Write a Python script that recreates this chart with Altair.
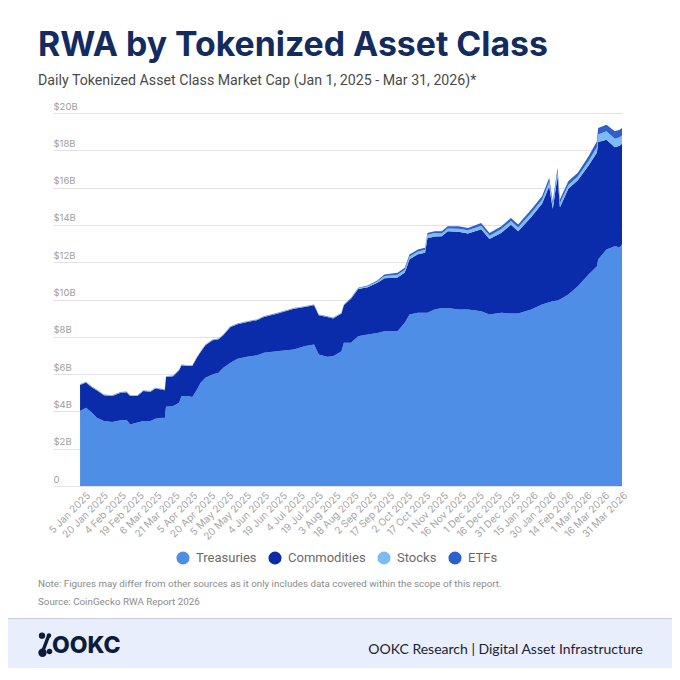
import altair as alt
import pandas as pd

# ---------------- data ($B) ----------------
dates = ["2025-01-01","2025-01-06","2025-01-11","2025-01-15","2025-01-21","2025-01-28","2025-02-04","2025-02-09","2025-02-12","2025-02-18",
         "2025-02-23","2025-03-01","2025-03-05","2025-03-11","2025-03-13","2025-03-14","2025-03-20","2025-03-25","2025-03-27","2025-04-01",
         "2025-04-05","2025-04-09","2025-04-12","2025-04-16","2025-04-22","2025-04-27","2025-05-01","2025-05-07","2025-05-13","2025-05-21",
         "2025-05-29","2025-06-04","2025-06-15","2025-06-29","2025-07-08","2025-07-16","2025-07-20","2025-07-27","2025-08-01","2025-08-08",
         "2025-08-10","2025-08-16","2025-08-22","2025-08-30","2025-09-07","2025-09-13","2025-09-24","2025-09-30","2025-10-04","2025-10-11",
         "2025-10-17","2025-10-19","2025-10-25","2025-10-31","2025-11-05","2025-11-14","2025-11-22","2025-12-03","2025-12-10","2025-12-20",
         "2025-12-28","2026-01-03","2026-01-14","2026-01-23","2026-01-29","2026-02-01","2026-02-05","2026-02-07","2026-02-14","2026-02-22",
         "2026-03-03","2026-03-10","2026-03-11","2026-03-18","2026-03-25","2026-03-29","2026-03-31"]

treasuries = [4.02,4.20,3.93,3.66,3.48,3.43,3.52,3.54,3.30,3.40,
              3.48,3.48,3.61,3.66,3.64,4.25,4.29,4.47,4.82,4.82,
              4.77,5.18,5.54,5.81,5.98,6.07,6.34,6.61,6.82,6.93,
              7.00,7.14,7.23,7.32,7.50,7.59,7.05,6.93,6.96,7.23,
              7.68,7.68,8.03,8.12,8.21,8.30,8.30,8.75,9.20,9.29,
              9.29,9.29,9.46,9.55,9.55,9.46,9.46,9.37,9.20,9.29,
              9.25,9.25,9.46,9.73,9.85,9.90,9.95,10.00,10.27,10.71,
              11.34,11.78,12.14,12.68,12.86,12.80,12.95]

commodities = [1.39,1.35,1.35,1.48,1.39,1.40,1.48,1.49,1.53,1.43,
               1.62,1.58,1.62,1.50,1.50,1.60,1.60,1.74,1.66,1.62,
               1.67,1.71,1.65,1.74,1.84,1.80,1.74,1.92,1.85,1.87,
               1.89,1.92,2.00,2.19,2.10,2.10,2.11,2.13,2.02,2.02,
               2.01,2.36,2.53,2.54,2.69,2.84,2.88,2.70,2.96,3.13,
               3.22,4.00,3.92,3.84,4.11,4.17,4.08,4.40,4.04,4.29,
               4.76,4.41,4.97,5.40,6.22,4.96,6.65,4.94,5.67,5.68,
               5.84,6.10,6.31,5.89,5.31,5.45,5.40]

stocks = [0.02,0.02,0.02,0.02,0.02,0.02,0.02,0.02,0.02,0.02,
          0.02,0.02,0.02,0.02,0.02,0.02,0.02,0.02,0.02,0.02,
          0.02,0.02,0.02,0.02,0.02,0.02,0.02,0.02,0.02,0.02,
          0.02,0.02,0.02,0.02,0.02,0.02,0.02,0.02,0.02,0.02,
          0.02,0.03,0.04,0.05,0.07,0.12,0.15,0.15,0.15,0.16,
          0.16,0.18,0.18,0.15,0.15,0.17,0.17,0.18,0.18,0.20,
          0.20,0.20,0.22,0.22,0.25,0.22,0.25,0.22,0.20,0.20,
          0.25,0.30,0.40,0.45,0.45,0.45,0.45]

etfs = [0.02,0.02,0.02,0.02,0.02,0.02,0.02,0.02,0.02,0.02,
        0.02,0.02,0.02,0.02,0.02,0.02,0.02,0.02,0.02,0.02,
        0.02,0.02,0.02,0.02,0.02,0.02,0.02,0.02,0.02,0.02,
        0.02,0.02,0.02,0.02,0.02,0.02,0.02,0.02,0.02,0.02,
        0.02,0.02,0.03,0.04,0.05,0.08,0.10,0.10,0.10,0.10,
        0.10,0.10,0.10,0.12,0.12,0.13,0.13,0.15,0.15,0.15,
        0.16,0.16,0.17,0.18,0.20,0.18,0.20,0.20,0.20,0.20,
        0.25,0.30,0.35,0.35,0.40,0.40,0.40]

classes = ["Treasuries", "Commodities", "Stocks", "ETFs"]
colors = ["#4f8ee6", "#0a2cab", "#7dbbf5", "#2f5ecf"]

tick_dates = ["2025-01-05","2025-01-20","2025-02-04","2025-02-19","2025-03-06","2025-03-21","2025-04-05","2025-04-20",
              "2025-05-05","2025-05-20","2025-06-04","2025-06-19","2025-07-04","2025-07-19","2025-08-03","2025-08-18",
              "2025-09-02","2025-09-17","2025-10-02","2025-10-17","2025-11-01","2025-11-16","2025-12-01","2025-12-16",
              "2025-12-31","2026-01-15","2026-01-30","2026-02-14","2026-03-01","2026-03-16","2026-03-31"]
y_ticks = [0, 2, 4, 6, 8, 10, 12, 14, 16, 18, 20]

title_text = "RWA by Tokenized Asset Class"
subtitle_text = "Daily Tokenized Asset Class Market Cap (Jan 1, 2025 - Mar 31, 2026)*"
note_text = "Note: Figures may differ from other sources as it only includes data covered within the scope of this report."
source_text = "Source: CoinGecko RWA Report 2026"
brand_text = "OOKC"
footer_text = "OOKC Research | Digital Asset Infrastructure"

# ---------------- build table ----------------
series = [treasuries, commodities, stocks, etfs]
rows = []
for i, d in enumerate(dates):
    for k, name in enumerate(classes):
        rows.append({"date": d, "cls": name, "value": series[k][i], "order": k})
df = pd.DataFrame(rows)

def ms(s):
    return int(pd.Timestamp(s, tz="UTC").value // 1_000_000)

tick_ms = [ms(t) for t in tick_dates]
x_domain = [ms("2024-12-09T08:00:00"), ms("2026-03-31")]

W, H = 569, 373
one = pd.DataFrame({"a": [1]})

area = alt.Chart(df).mark_area(interpolate="linear").encode(
    x=alt.X("date:T",
            scale=alt.Scale(type="utc", domain=x_domain),
            axis=alt.Axis(values=tick_ms, format="%-d %b %Y", labelAngle=-45, labelAlign="right",
                          labelBaseline="top", grid=False, domain=False, ticks=False,
                          labelColor="#a6a6a6", labelFontSize=10, labelFont="Inter", labelPadding=4,
                          title=None, labelOverlap=False, labelBound=False, labelFlush=False)),
    y=alt.Y("value:Q", stack="zero",
            scale=alt.Scale(domain=[0, 20], nice=False),
            axis=alt.Axis(values=y_ticks,
                          labelExpr="datum.value == 0 ? '0' : '$' + datum.value + 'B'",
                          grid=True, gridColor="#e3e3e3", gridWidth=1, domain=False, ticks=False,
                          labelAlign="left", labelBaseline="bottom", labelPadding=0, labelOffset=-2,
                          labelColor="#a0a0a0", labelFontSize=9.5, labelFont="Inter", title=None)),
    color=alt.Color("cls:N", scale=alt.Scale(domain=classes, range=colors),
                    legend=alt.Legend(orient="none", legendX=123, legendY=438, direction="horizontal",
                                      title=None, symbolType="circle", symbolSize=170,
                                      symbolStrokeWidth=0, symbolOpacity=1, labelFont="Roboto",
                                      labelFontSize=13, labelColor="#6b6b6b", labelOffset=6,
                                      columnPadding=11)),
    order=alt.Order("order:Q", sort="ascending"),
)

def txt(text, x, y, size, color, weight="normal", font="Inter", align="left"):
    return alt.Chart(one).mark_text(text=text, align=align, baseline="alphabetic", font=font,
                                    fontSize=size, fontWeight=weight, color=color
                                    ).encode(x=alt.value(x), y=alt.value(y))

footer_bg = alt.Chart(one).mark_rect(color="#e8eefb").encode(
    x=alt.value(-60), x2=alt.value(640), y=alt.value(506), y2=alt.value(580))
footer_line = alt.Chart(one).mark_rule(color="#c8cfdb", strokeWidth=1).encode(
    x=alt.value(-60), x2=alt.value(640), y=alt.value(505.5))

logo_dots = alt.Chart(pd.DataFrame({"px": [-11, -4, -10.5, -3.5], "py": [522.7, 522.5, 539.7, 538.5],
                                    "s": [40, 20, 70, 30]})).mark_circle(color="#0f1b3d", opacity=1).encode(
    x=alt.X("px:Q", scale=None), y=alt.Y("py:Q", scale=None), size=alt.Size("s:Q", scale=None, legend=None))
logo_bar = alt.Chart(one).mark_rule(color="#0f1b3d", strokeWidth=3.5, strokeCap="round").encode(
    x=alt.value(-4.5), y=alt.value(523), x2=alt.value(-10.5), y2=alt.value(539))

chart = alt.layer(
    footer_bg, footer_line, area,
    txt(title_text, -15, -57.5, 33.8, "#132b5e", weight=700),
    txt(subtitle_text, -15, -28, 14.2, "#4a4a4a", font="Roboto"),
    txt(note_text, -15, 474, 9.8, "#8c8c8c", font="Roboto"),
    txt(source_text, -15, 492, 9.8, "#8c8c8c", font="Roboto"),
    logo_dots, logo_bar,
    txt(brand_text, -1, 540, 23, "#0f1b3d", weight=800),
    txt(footer_text, 590, 540.5, 14, "#1c2236", font="Lato", align="right"),
).properties(
    width=W, height=H,
    autosize=alt.AutoSizeParams(type="none"),
    padding={"left": 45, "top": 105, "right": 50, "bottom": 182},
    background="white",
).configure_view(stroke=None)

chart.save("out.html", embed_options={"renderer": "svg", "actions": False})
